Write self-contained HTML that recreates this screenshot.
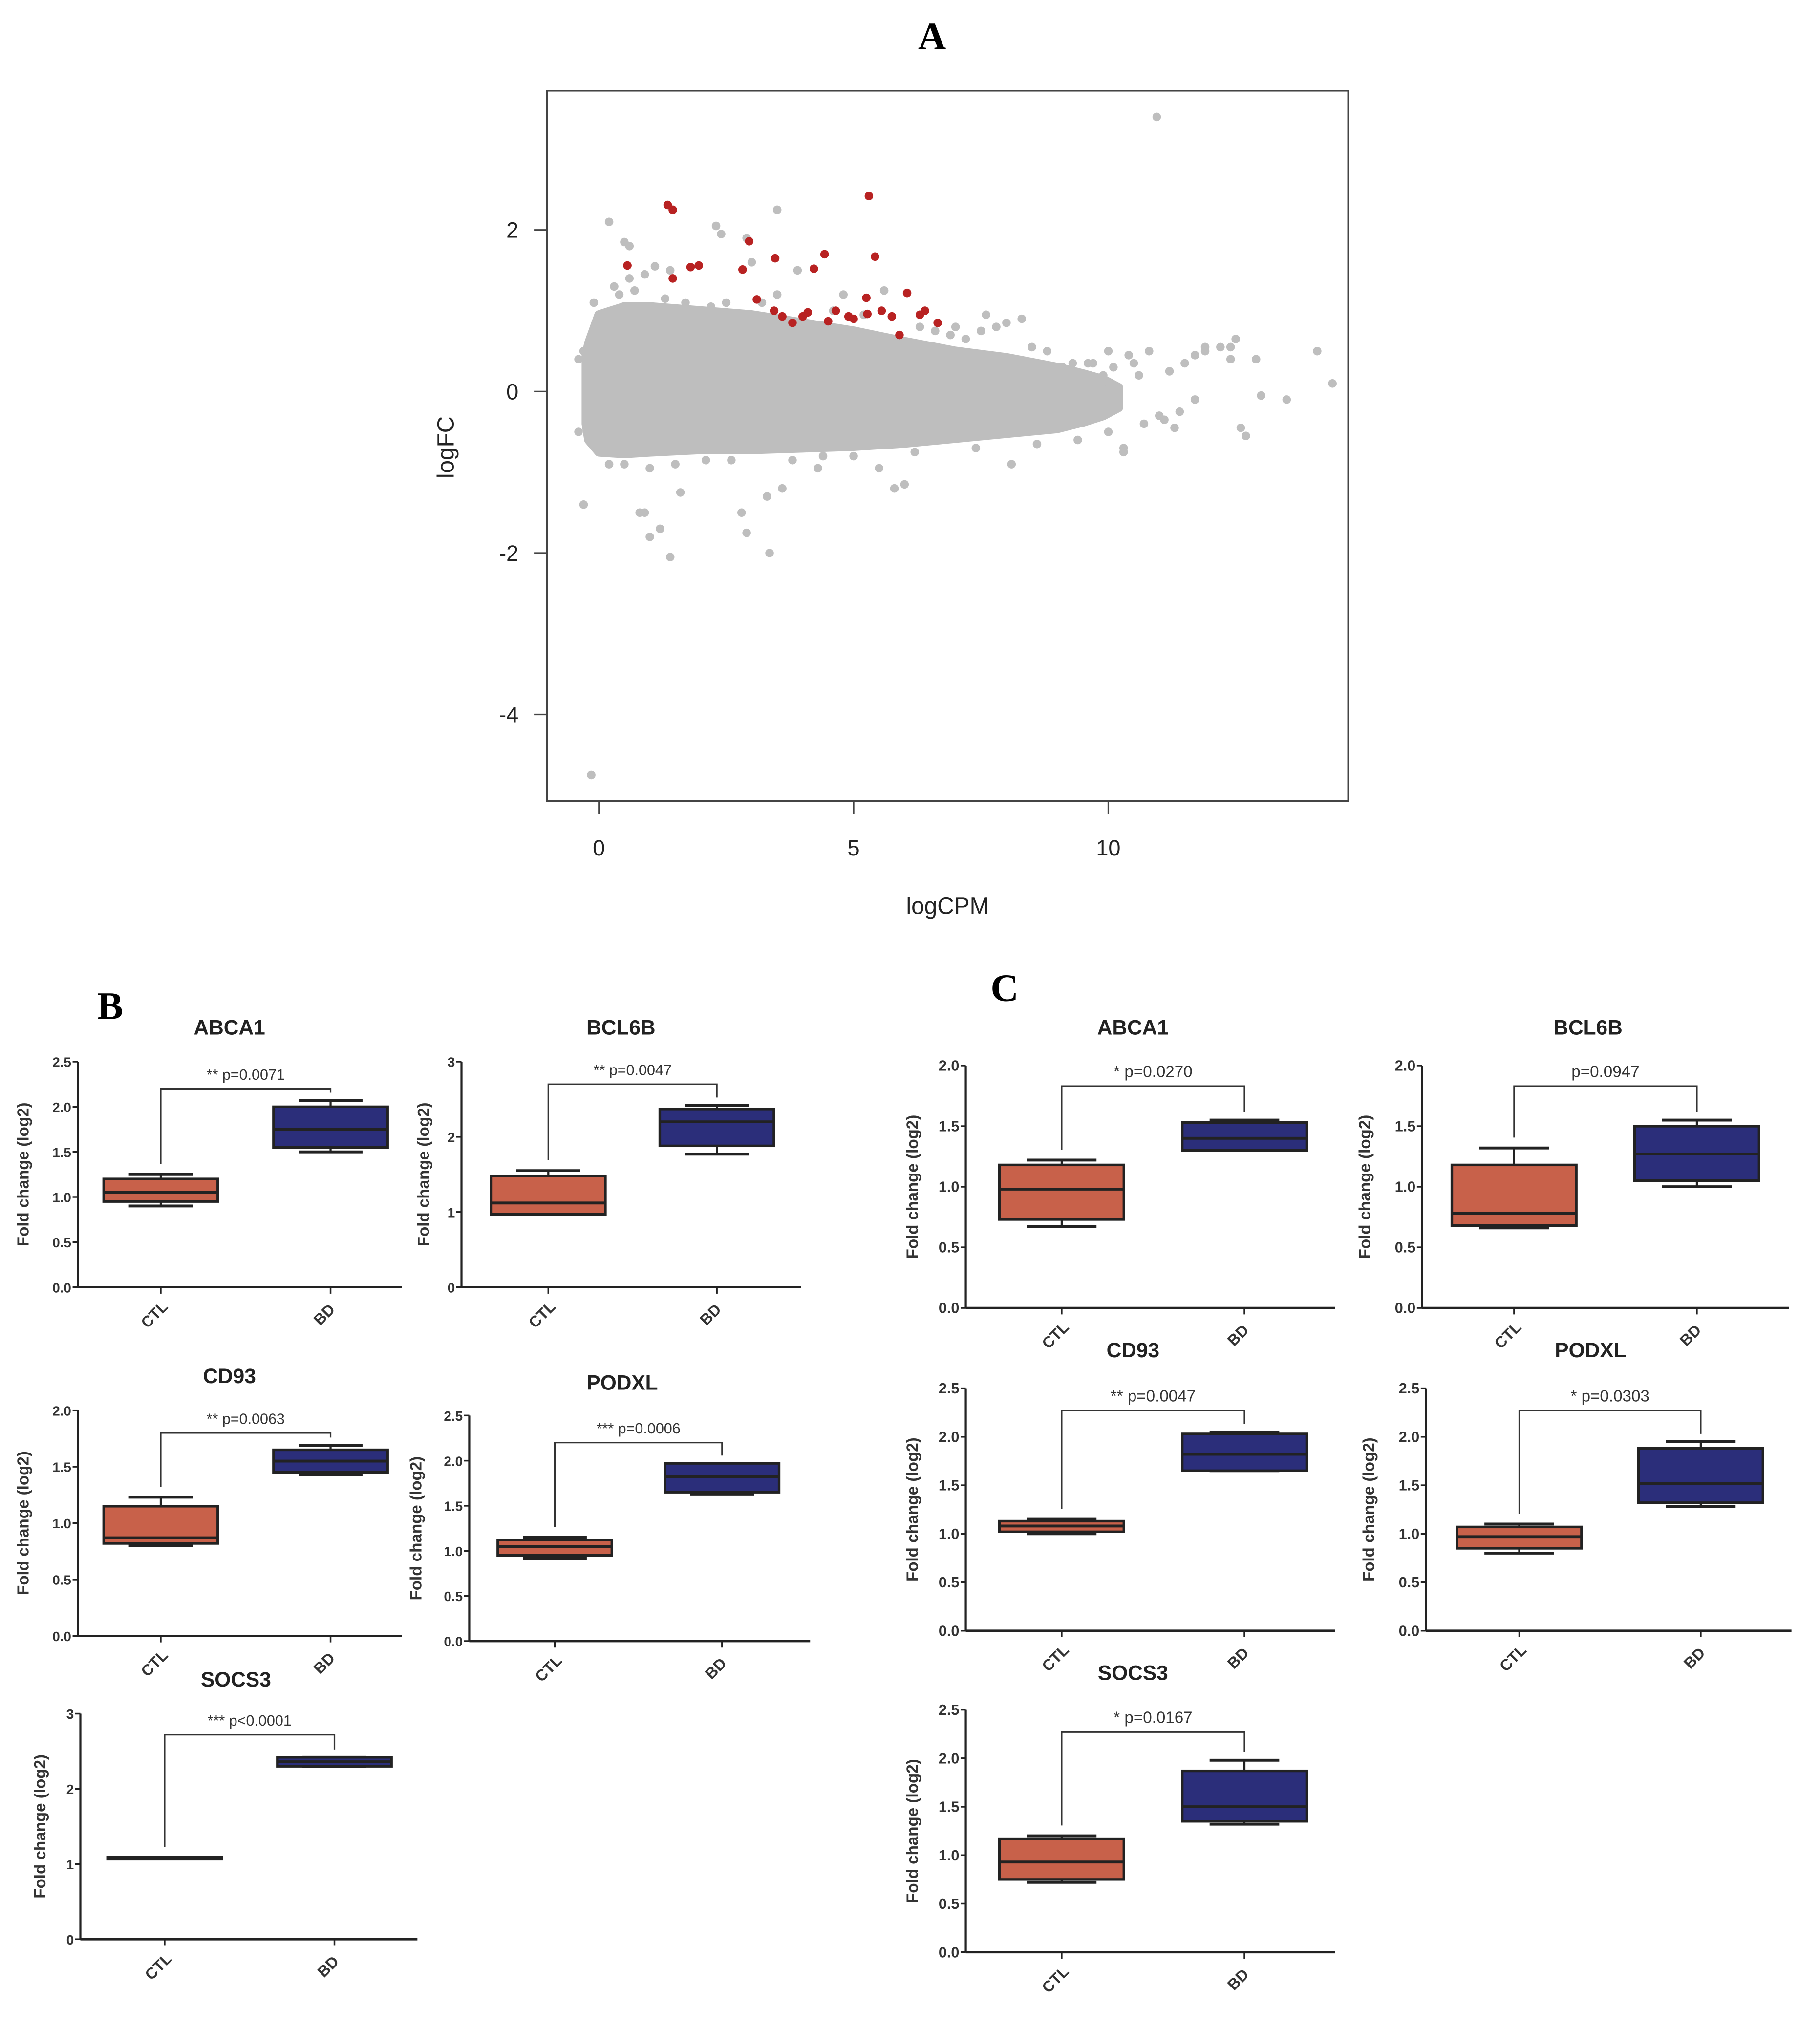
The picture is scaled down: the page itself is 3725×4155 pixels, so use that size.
<!DOCTYPE html>
<html><head><meta charset="utf-8">
<style>
html,body{margin:0;padding:0;background:#fff;}
svg{display:block;}
text{font-family:"Liberation Sans",Arial,sans-serif;}
text.serif{font-family:"Liberation Serif",serif;}
</style></head>
<body>
<svg id="fig" xmlns="http://www.w3.org/2000/svg" width="3725" height="4155" viewBox="0 0 1404 1566">
<rect x="0" y="0" width="1404" height="1566" fill="#fff"/>
<text class="serif" x="719" y="38" text-anchor="middle" font-weight="bold" font-size="30">A</text>
<text class="serif" x="85" y="786" text-anchor="middle" font-weight="bold" font-size="30">B</text>
<text class="serif" x="775" y="772" text-anchor="middle" font-weight="bold" font-size="30">C</text>
<g id="scatter"></g>
<g id="boxes"></g>
</svg>
<script>
// ---- MA plot data ----
const envX = [-0.25,-0.2,0,0.5,1,2,3,4,5,6,7,8,9,9.5,9.9,10.2];
const envUpper = [0.45,0.6,0.95,1.05,1.05,1.0,0.95,0.85,0.75,0.62,0.5,0.42,0.3,0.22,0.15,0.05];
const envLower = [-0.4,-0.6,-0.75,-0.77,-0.75,-0.72,-0.72,-0.7,-0.68,-0.64,-0.58,-0.52,-0.46,-0.38,-0.3,-0.2];
const grayX = [10.95,-0.15,0.2,0.5,0.6,3.5,2.3,2.4,-0.3,0.2,0.8,0.9,1.0,1.2,1.4,1.6,2.8,2.9,3.3,3.35,3.6,4.3,5.5,5.8,6.0,8.1,10.3,10.3,11.1,11.3,11.7,12.4,12.6,12.7,13.0,13.5,14.1,14.4,12.4,12.5,12.9,11.5,11.7,11.9,11.9,12.2,11.2,10.8,10.4,10.0,10.5,9.7,8.3,8.0,7.8,7.5,7.6,6.9,7.0,3.9,3.0,2.9,1.4,1.1,0.9,0.6,0.3,-0.1,3.5,2.2,4.8,5.6,9.1,9.3,9.9,-0.4,-0.3,-0.4,
  0.4,0.7,1.3,1.7,2.5,3.2,4.6,5.2,6.3,6.6,7.2,8.5,8.8,9.6,10.1,10.6,0.5,1.0,1.5,2.1,2.6,3.8,4.4,5.0,6.2,7.4,8.6,9.4,10.0,10.7,11.0,11.4];
const grayY = [3.4,-4.75,2.1,1.85,1.8,2.25,2.05,1.95,-1.4,-0.9,-1.5,-1.5,-1.8,-1.7,-2.05,-1.25,-1.5,-1.75,-1.3,-2.0,-1.2,-0.95,-0.95,-1.2,-1.15,-0.9,-0.75,-0.7,-0.35,-0.45,-0.1,0.4,-0.45,-0.55,-0.05,-0.1,0.5,0.1,0.55,0.65,0.4,0.35,0.45,0.55,0.5,0.55,0.25,0.5,0.45,0.5,0.35,0.35,0.9,0.85,0.8,0.75,0.95,0.7,0.8,1.5,1.6,1.9,1.5,1.55,1.45,1.4,1.3,1.1,1.2,1.05,1.2,1.25,0.3,0.35,0.2,-0.5,0.5,0.4,
  1.2,1.25,1.15,1.1,1.1,1.1,1.0,0.95,0.8,0.75,0.65,0.55,0.5,0.35,0.3,0.2,-0.9,-0.95,-0.9,-0.85,-0.85,-0.85,-0.8,-0.8,-0.75,-0.7,-0.65,-0.6,-0.5,-0.4,-0.3,-0.25];
const redX = [1.35,1.45,5.3,0.56,1.8,1.96,2.95,2.82,3.46,4.43,4.22,5.42,1.45,3.1,3.44,3.6,4.0,4.65,4.5,4.9,5.25,5.27,5.55,5.75,6.05,6.3,6.4,6.65,5.9,3.8,5.0,4.1];
const redY = [2.31,2.25,2.42,1.56,1.54,1.56,1.86,1.51,1.65,1.70,1.52,1.67,1.40,1.14,1.0,0.93,0.93,1.0,0.87,0.93,1.16,0.96,1.0,0.93,1.22,0.95,1.0,0.85,0.7,0.85,0.9,0.98];
const xTicks = [0,5,10];
const yTicks = [2,0,-2,-4];

const NS = "http://www.w3.org/2000/svg";
function mk(tag, attrs, parent){const e=document.createElementNS(NS,tag);for(const k in attrs)e.setAttribute(k,attrs[k]);parent.appendChild(e);return e;}

const sc = document.getElementById('scatter');
const xS = v => 462 + v*39.3;
const yS = v => 302 - v*62.3;
let fr = mk('rect',{x:422,y:70,width:618,height:548,fill:'none',stroke:'#444','stroke-width':1.3},sc);


let pts = envX.map((x,i)=>xS(x)+','+yS(envUpper[i])).concat(envX.slice().reverse().map((x,i)=>xS(x)+','+yS(envLower[envX.length-1-i])));
let cloud = mk('polygon',{points:pts.join(' '),fill:'#bebebe',stroke:'#bebebe','stroke-width':7,'stroke-linejoin':'round'},sc);


grayX.forEach((x,i)=>{
  const c=mk('circle',{cx:xS(x),cy:yS(grayY[i]),r:3.3,fill:'#bebebe'},sc);
  
  
});
redX.forEach((x,i)=>{
  const c=mk('circle',{cx:xS(x),cy:yS(redY[i]),r:3.3,fill:'#b82222'},sc);
  
  
});
xTicks.forEach(t=>{
  mk('line',{x1:xS(t),x2:xS(t),y1:618,y2:628,stroke:'#444','stroke-width':1.2},sc);
  const tx=mk('text',{x:xS(t),y:660,'text-anchor':'middle','font-size':17,fill:'#222'},sc);
  tx.textContent=t;
  
  
});
yTicks.forEach(t=>{
  mk('line',{x1:412,x2:422,y1:yS(t),y2:yS(t),stroke:'#444','stroke-width':1.2},sc);
  const tx=mk('text',{x:400,y:yS(t)+6,'text-anchor':'end','font-size':17,fill:'#222'},sc);
  tx.textContent=t;
  
  
});
let xt=mk('text',{x:731,y:705,'text-anchor':'middle','font-size':18,fill:'#222'},sc);
xt.textContent='logCPM';


let yt=mk('text',{x:350,y:345,'text-anchor':'middle','font-size':18,fill:'#222',transform:'rotate(-90 350 345)'},sc);
yt.textContent='logFC';



// ---- Boxplot data ----
const boxTitles = ['ABCA1','BCL6B','CD93','PODXL','SOCS3','ABCA1','BCL6B','CD93','PODXL','SOCS3'];
const pLabels = ['** p=0.0071','** p=0.0047','** p=0.0063','*** p=0.0006','*** p<0.0001','* p=0.0270','p=0.0947','** p=0.0047','* p=0.0303','* p=0.0167'];
// [whiskerLow, q1, median, q3, whiskerHigh]
const ctlStats = [[0.9,0.95,1.05,1.2,1.25],[0.97,0.97,1.12,1.48,1.55],[0.8,0.82,0.87,1.15,1.23],[0.92,0.95,1.05,1.12,1.15],[1.07,1.07,1.08,1.09,1.09],
                  [0.67,0.73,0.98,1.18,1.22],[0.66,0.68,0.78,1.18,1.32],[1.0,1.02,1.08,1.13,1.15],[0.8,0.85,0.97,1.07,1.1],[0.72,0.75,0.93,1.17,1.2]];
const bdStats = [[1.5,1.55,1.75,2.0,2.07],[1.77,1.88,2.2,2.37,2.42],[1.43,1.45,1.55,1.65,1.69],[1.63,1.65,1.82,1.97,1.97],[2.3,2.3,2.36,2.42,2.42],
                 [1.3,1.3,1.4,1.53,1.55],[1.0,1.05,1.27,1.5,1.55],[1.65,1.65,1.82,2.03,2.05],[1.28,1.32,1.52,1.88,1.95],[1.32,1.35,1.5,1.87,1.98]];
const bracketVal = [2.2,2.7,1.8,2.2,2.72,1.83,1.83,2.27,2.27,2.27];
const yMax = [2.5,3,2,2.5,3,2,2,2.5,2.5,2.5];
const tickStep = [0.5,1,0.5,0.5,1,0.5,0.5,0.5,0.5,0.5];
const tickDecimals = [1,0,1,1,0,1,1,1,1,1];
// layout (not data)
const L = [
 {ax:60,top:819,bot:993,right:310,c:124,b:255,w:88,tx:177,ty:792,fs:8.5,yo:38},
 {ax:356,top:819,bot:993,right:618,c:423,b:553,w:88,tx:479,ty:792,fs:8.5,yo:25},
 {ax:60,top:1088,bot:1262,right:310,c:124,b:255,w:88,tx:177,ty:1061,fs:8.5,yo:38},
 {ax:362,top:1092,bot:1266,right:625,c:428,b:557,w:88,tx:480,ty:1066,fs:8.5,yo:37},
 {ax:62,top:1322,bot:1496,right:322,c:127,b:258,w:88,tx:182,ty:1295,fs:8.5,yo:27},
 {ax:745,top:822,bot:1009,right:1030,c:819,b:960,w:96,tx:874,ty:792,fs:9.5,yo:37},
 {ax:1097,top:822,bot:1009,right:1380,c:1168,b:1309,w:96,tx:1225,ty:792,fs:9.5,yo:40},
 {ax:745,top:1071,bot:1258,right:1030,c:819,b:960,w:96,tx:874,ty:1041,fs:9.5,yo:37},
 {ax:1100,top:1071,bot:1258,right:1382,c:1172,b:1312,w:96,tx:1227,ty:1041,fs:9.5,yo:40},
 {ax:745,top:1319,bot:1506,right:1030,c:819,b:960,w:96,tx:874,ty:1290,fs:9.5,yo:37}
];
const bx = document.getElementById('boxes');
boxTitles.forEach((title,i)=>{
  const l=L[i];
  const g=mk('g',{},bx);
  
  
  const y=v=>l.bot-(v/yMax[i])*(l.bot-l.top);
  const t=mk('text',{x:l.tx,y:l.ty+6,'text-anchor':'middle','font-size':16,'font-weight':'bold',fill:'#222'},g);
  t.textContent=title;
  
  
  mk('line',{x1:l.ax,x2:l.ax,y1:l.top,y2:l.bot,stroke:'#222','stroke-width':1.6},g);
  mk('line',{x1:l.ax,x2:l.right,y1:l.bot,y2:l.bot,stroke:'#222','stroke-width':1.8},g);
  for(let v=0; v<=yMax[i]+1e-6; v+=tickStep[i]){
    mk('line',{x1:l.ax-4,x2:l.ax,y1:y(v),y2:y(v),stroke:'#222','stroke-width':1.3},g);
    const tt=mk('text',{x:l.ax-5,y:y(v)+4,'text-anchor':'end','font-size':l.fs+2,'font-weight':'bold',fill:'#333'},g);
    tt.textContent=v.toFixed(tickDecimals[i]);
    
    
  }
  const ylx=l.ax-l.yo, ylc=(l.top+l.bot)/2;
  const yl=mk('text',{x:ylx,y:ylc,'text-anchor':'middle','font-size':12.5,'font-weight':'bold',fill:'#333',transform:`rotate(-90 ${ylx} ${ylc})`},g);
  yl.textContent='Fold change (log2)';
  
  
  [[l.c,'CTL',ctlStats[i],'#c8614a'],[l.b,'BD',bdStats[i],'#2b2e7a']].forEach(([cx,lab,s,col])=>{
    mk('line',{x1:cx,x2:cx,y1:l.bot,y2:l.bot+5,stroke:'#222','stroke-width':1.3},g);
    const lx=cx-2, ly=l.bot+24;
    const xl=mk('text',{x:lx,y:ly,'text-anchor':'middle','font-size':12,'font-weight':'bold',fill:'#333',transform:`rotate(-45 ${lx} ${ly})`},g);
    xl.textContent=lab;
    
    
    const hw=l.w/2, cw=l.w*0.28;
    mk('line',{x1:cx,x2:cx,y1:y(s[0]),y2:y(s[4]),stroke:'#222','stroke-width':1.6},g);
    mk('line',{x1:cx-cw,x2:cx+cw,y1:y(s[0]),y2:y(s[0]),stroke:'#222','stroke-width':2.2},g);
    mk('line',{x1:cx-cw,x2:cx+cw,y1:y(s[4]),y2:y(s[4]),stroke:'#222','stroke-width':2.2},g);
    const r=mk('rect',{x:cx-hw,y:y(s[3]),width:l.w,height:Math.max(1.5,y(s[1])-y(s[3])),fill:col,stroke:'#222','stroke-width':2},g);
    
    
    mk('line',{x1:cx-hw,x2:cx+hw,y1:y(s[2]),y2:y(s[2]),stroke:'#222','stroke-width':2.2},g);
  });
  const by=y(bracketVal[i]);
  const br=mk('path',{d:`M${l.c},${y(ctlStats[i][4])-8} V${by} H${l.b} V${y(bdStats[i][4])-6}`,fill:'none',stroke:'#333','stroke-width':1.2},g);
  
  
  const pt=mk('text',{x:(l.c+l.b)/2,y:by-7,'text-anchor':'middle','font-size':l.fs+3,fill:'#333'},g);
  pt.textContent=pLabels[i];
  
  
});
</script>
</body></html>
